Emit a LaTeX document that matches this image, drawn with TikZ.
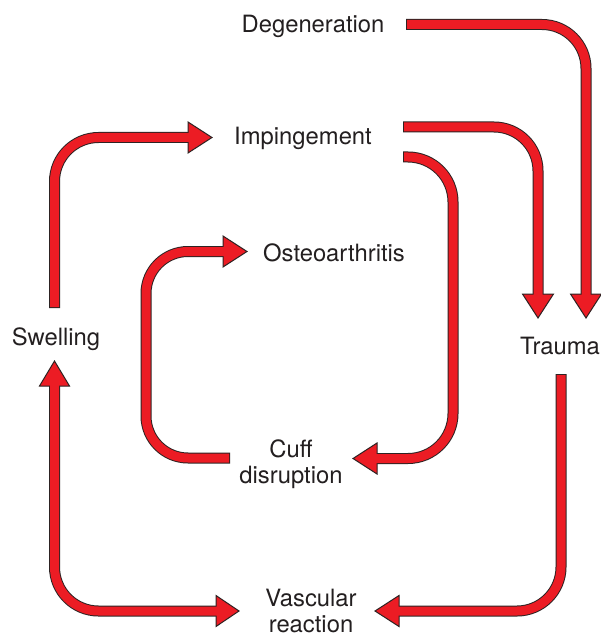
\documentclass[tikz,border=0pt]{standalone}
\usepackage{fontspec}
\setmainfont{TeX Gyre Heros}
\definecolor{arrred}{RGB}{236,28,36}
\definecolor{arrdark}{RGB}{45,35,35}
\definecolor{txt}{RGB}{35,31,32}
\newcommand\fatarrow[3][44pt]{%
  \draw[shaftout, rounded corners=#1] #2;
  \filldraw[headst] #3;
  \draw[shaftin, rounded corners=#1] #2;
}
\begin{document}
\begin{tikzpicture}[x=1pt,y=-1pt,
  lbl/.style={font=\fontsize{23.8}{26}\selectfont, text=txt, inner sep=0pt, align=center, anchor=base},
  shaftout/.style={draw=arrdark, line width=11pt},
  shaftin/.style={draw=arrred, line width=9pt, shorten <=1pt},
  headst/.style={fill=arrred, draw=arrdark, line width=1pt, line join=miter}]
\useasboundingbox (0,0) rectangle (600,636);
\fill[white] (0,0) rectangle (600,636);

% labels
\node[lbl] (degen)  at (313,33)  {Degeneration};
\node[lbl] (imping) at (303,145) {Impingement};
\node[lbl] (osteo)  at (334,261) {Osteoarthritis};
\node[lbl] (cuff)   at (291,483) {Cuff\\disruption};
\node[lbl] (swell)  at (56,345)  {Swelling};
\node[lbl] (trauma) at (560,354) {Trauma};
\node[lbl] (vasc)   at (311,632) {Vascular\\reaction};

% Degeneration -> Trauma
\fatarrow{(406,24.5) -| (586,297)}{(586,318) -- (570.5,294) -- (601.5,294) -- cycle}
% Impingement -> Trauma
\fatarrow{(403,127) -| (538,297)}{(538,318) -- (522.5,294) -- (553.5,294) -- cycle}
% Impingement -> Cuff disruption
\fatarrow[45pt]{(403,157) -- (453,157) -- (453,458.5) -- (374,458.5)}{(353,458.5) -- (377,443) -- (377,474) -- cycle}
% Cuff disruption -> Osteoarthritis
\fatarrow[42pt]{(230,458) -- (146,458) -- (146,251.5) -- (226,251.5)}{(247,251.5) -- (223,236) -- (223,267) -- cycle}
% Swelling -> Impingement
\fatarrow{(54.5,308) -- (54.5,137.5) -- (191,137.5)}{(212,137.5) -- (188,122) -- (188,153) -- cycle}
% Swelling <-> Vascular reaction
\fatarrow{(54.5,383) -- (54.5,611) -- (219,611)}{(54.5,361) -- (39.5,386) -- (69.5,386) -- cycle (239,611) -- (216,595.5) -- (216,626.5) -- cycle}
% Trauma -> Vascular reaction
\fatarrow{(561,374) -- (561,611) -- (396,611)}{(375,611) -- (399,595.5) -- (399,626.5) -- cycle}
\end{tikzpicture}
\end{document}
